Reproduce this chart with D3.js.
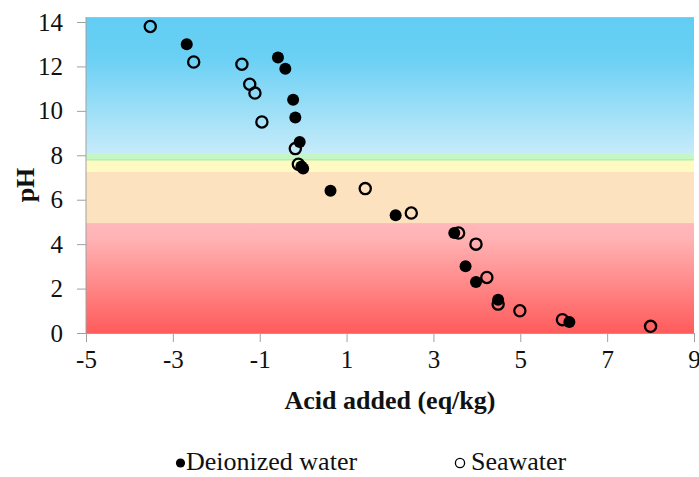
<!DOCTYPE html>
<html>
<head>
    <meta charset="UTF-8"/>
    <script src="https://d3js.org/d3.v7.min.js"></script>
    <style>
        .axis path, .axis line { stroke: #a0a0a0; }
    </style>
</head>
<body style="margin:0">
    <script>
        // data
        var deionX  = [-2.68, -0.58, -0.41, -0.23, -0.18, -0.08, -0.04, 0.00, 0.63, 2.13, 3.48, 3.74, 3.98, 4.49, 6.13];
        var deionPH = [13.0, 12.4, 11.9, 10.5, 9.7, 8.6, 7.5, 7.4, 6.4, 5.3, 4.5, 3.0, 2.3, 1.5, 0.5];
        var seaX  = [-3.52, -2.52, -1.41, -1.23, -1.11, -0.95, -0.18, -0.11, 1.43, 2.49, 3.58, 3.98, 4.23, 4.49, 4.99, 5.97, 8.00];
        var seaPH = [13.8, 12.2, 12.1, 11.2, 10.8, 9.5, 8.3, 7.6, 6.5, 5.4, 4.5, 4.0, 2.5, 1.3, 1.0, 0.6, 0.3];
        var xTicks = [-5, -3, -1, 1, 3, 5, 7, 9];
        var yTicks = [0, 2, 4, 6, 8, 10, 12, 14];
        // pH bands in the background: [low, high]
        var bandNames = ["red", "orange", "yellow", "green", "blue"];
        var bandLow  = [0, 4.95, 7.25, 7.8, 8.1];
        var bandHigh = [4.95, 7.25, 7.8, 8.1, 14.22];

        var w = 699, h = 477;
        var serif = "'Liberation Serif'";

        var xScale = d3.scaleLinear().domain([-5, 9]).range([86, 694]);
        var yScale = d3.scaleLinear().domain([0, 14]).range([333, 22]);

        var svg = d3.select("body").append("svg")
            .attr("width", w)
            .attr("height", h);

        var defs = svg.append("defs");
        var blue = defs.append("linearGradient").attr("id", "gBlue")
            .attr("x1", 0).attr("y1", 0).attr("x2", 0).attr("y2", 1);
        blue.append("stop").attr("offset", "0%").attr("stop-color", "#62cdf3");
        blue.append("stop").attr("offset", "30%").attr("stop-color", "#6ad0f4");
        blue.append("stop").attr("offset", "100%").attr("stop-color", "#c6ebfa");
        var red = defs.append("linearGradient").attr("id", "gRed")
            .attr("x1", 0).attr("y1", 0).attr("x2", 0).attr("y2", 1);
        red.append("stop").attr("offset", "0%").attr("stop-color", "#ffb8bb");
        red.append("stop").attr("offset", "15%").attr("stop-color", "#ffb2b3");
        red.append("stop").attr("offset", "100%").attr("stop-color", "#ff5b5b");

        var bandFill = {
            red: "url(#gRed)",
            orange: "#fde2bf",
            yellow: "#fffac2",
            green: "#c5f7c6",
            blue: "url(#gBlue)"
        };

        svg.append("g").selectAll("rect")
            .data(bandNames)
            .enter()
            .append("rect")
            .attr("x", xScale(-5))
            .attr("width", xScale(9) - xScale(-5))
            .attr("y", function(d, i) { return yScale(bandHigh[i]); })
            .attr("height", function(d, i) { return yScale(bandLow[i]) - yScale(bandHigh[i]); })
            .attr("fill", function(d) { return bandFill[d]; });

        // thin darker line under the green band
        svg.append("line")
            .attr("x1", xScale(-5)).attr("x2", xScale(9))
            .attr("y1", yScale(7.8)).attr("y2", yScale(7.8))
            .attr("stroke", "#b4eeb0").attr("stroke-width", 1.5);

        // axes
        var yAxis = svg.append("g")
            .attr("class", "axis")
            .attr("transform", "translate(" + xScale(-5) + ",0)")
            .call(d3.axisLeft(yScale).tickValues(yTicks).tickSize(9).tickPadding(14).tickSizeOuter(0)
                .tickFormat(function(d) { return String(d); }));
        yAxis.attr("font-family", null).attr("font-size", null);
        yAxis.selectAll("text")
            .attr("font-family", serif).attr("font-size", 25).attr("fill", "#111");
        yAxis.select(".domain").attr("d", "M0," + yScale(14.22) + "V" + yScale(0));

        var xAxis = svg.append("g")
            .attr("class", "axis")
            .attr("transform", "translate(0," + yScale(0) + ")")
            .call(d3.axisBottom(xScale).tickValues(xTicks).tickSize(9).tickPadding(8).tickSizeOuter(0)
                .tickFormat(function(d) { return String(d); }));
        xAxis.attr("font-family", null).attr("font-size", null);
        xAxis.selectAll("text")
            .attr("font-family", serif).attr("font-size", 25).attr("fill", "#111");

        // points: seawater first, deionized water on top
        svg.append("g").selectAll("circle")
            .data(seaX)
            .enter()
            .append("circle")
            .attr("cx", function(d) { return xScale(d); })
            .attr("cy", function(d, i) { return yScale(seaPH[i]); })
            .attr("r", 5.6)
            .attr("fill", "none")
            .attr("stroke", "#000")
            .attr("stroke-width", 2.3);

        svg.append("g").selectAll("circle")
            .data(deionX)
            .enter()
            .append("circle")
            .attr("cx", function(d) { return xScale(d); })
            .attr("cy", function(d, i) { return yScale(deionPH[i]); })
            .attr("r", 6)
            .attr("fill", "#000");

        // axis titles
        svg.append("text")
            .attr("text-anchor", "middle")
            .attr("x", 390)
            .attr("y", 409)
            .attr("font-family", serif)
            .attr("font-size", 26)
            .attr("font-weight", "bold")
            .attr("fill", "#111")
            .text("Acid added (eq/kg)");

        svg.append("text")
            .attr("text-anchor", "middle")
            .attr("transform", "translate(34,185) rotate(-90)")
            .attr("font-family", serif)
            .attr("font-size", 26)
            .attr("font-weight", "bold")
            .attr("fill", "#111")
            .text("pH");

        // legend
        var legend = svg.append("g");
        legend.append("circle")
            .attr("cx", 180.5).attr("cy", 463).attr("r", 4.6)
            .attr("fill", "#000");
        legend.append("text")
            .attr("x", 186).attr("y", 470)
            .attr("font-family", serif).attr("font-size", 26).attr("fill", "#111")
            .text("Deionized water");
        legend.append("circle")
            .attr("cx", 460).attr("cy", 463).attr("r", 4.6)
            .attr("fill", "none").attr("stroke", "#000").attr("stroke-width", 1.3);
        legend.append("text")
            .attr("x", 471).attr("y", 470)
            .attr("font-family", serif).attr("font-size", 26).attr("fill", "#111")
            .text("Seawater");
    </script>
</body>
</html>
